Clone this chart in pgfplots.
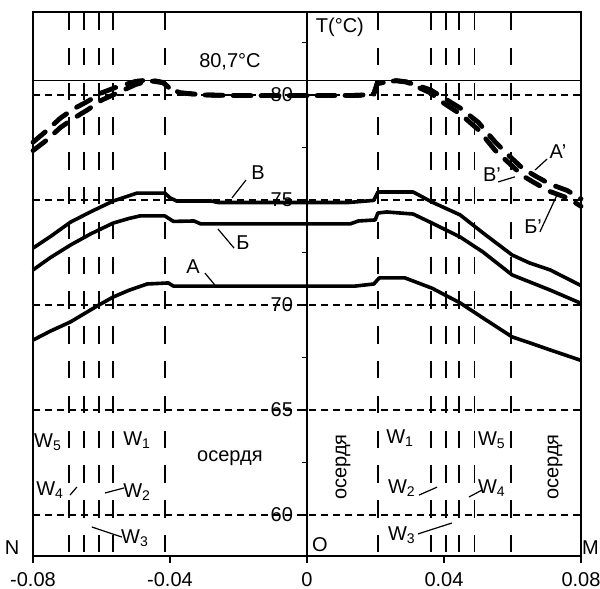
\documentclass[border=0pt]{standalone}
\usepackage{fontspec}
\setmainfont{Liberation Sans}
\usepackage{pgfplots}
\usepackage{pgfplotstable}
\pgfplotsset{compat=1.18}

\pgfplotstableread{
x y
-0.08 72.71
-0.075 73.25
-0.069 73.95
-0.063 74.45
-0.0566 74.95
-0.052 75.2
-0.0496 75.33
-0.0415 75.33
-0.040 75.1
-0.038 74.95
-0.028 74.95
-0.026 74.88
0.012 74.88
0.0195 74.98
0.0207 75.38
0.031 75.38
0.0365 74.9
0.0447 74.29
0.0514 73.43
0.0599 72.38
0.065 72.0
0.071 71.67
0.0797 70.95
0.08 70.93
}\curveV

\pgfplotstableread{
x y
-0.08 71.67
-0.075 72.25
-0.069 72.86
-0.063 73.4
-0.0566 73.9
-0.052 74.12
-0.0488 74.24
-0.0415 74.24
-0.039 73.98
-0.033 74.0
-0.031 73.86
0.0126 73.86
0.015 74.0
0.0199 74.05
0.0207 74.38
0.0233 74.43
0.031 74.33
0.0365 73.9
0.0447 73.24
0.0514 72.52
0.0599 71.43
0.065 71.1
0.071 70.71
0.0797 70.1
0.08 70.08
}\curveB

\pgfplotstableread{
x y
-0.08 68.33
-0.075 68.75
-0.069 69.2
-0.0613 69.95
-0.0566 70.38
-0.052 70.7
-0.0467 71.0
-0.0405 71.05
-0.039 70.9
0.014 70.9
0.0195 71.0
0.0211 71.29
0.0286 71.29
0.0365 70.8
0.0447 70.1
0.0514 69.38
0.0599 68.48
0.065 68.2
0.071 67.86
0.0797 67.38
0.08 67.36
}\curveA

\pgfplotstableread{
x y
-0.08 77.75
-0.076 78.3
-0.072 78.9
-0.068 79.35
-0.064 79.7
-0.060 80.1
-0.056 80.35
-0.050 80.65
-0.046 80.72
-0.042 80.6
-0.040 80.3
-0.037 80.1
-0.030 80.0
-0.020 79.97
0 79.97
0.015 79.98
0.0195 80.05
0.0205 80.55
0.026 80.68
0.029 80.62
0.036 80.25
0.040 79.85
0.0447 79.38
0.050 78.7
0.055 77.75
0.0587 77.15
0.0630 76.5
0.0666 76.15
0.071 75.75
0.076 75.45
0.080 75.05
}\curveAp

\pgfplotstableread{
x y
-0.08 77.35
-0.076 77.85
-0.072 78.45
-0.068 78.9
-0.064 79.3
-0.060 79.75
-0.056 80.05
-0.050 80.5
-0.046 80.68
-0.042 80.58
-0.040 80.3
-0.037 80.1
-0.030 80.0
-0.020 79.97
0 79.97
0.015 79.98
0.0195 80.05
0.0205 80.55
0.026 80.68
0.029 80.62
0.036 80.1
0.040 79.6
0.0447 79.1
0.050 78.35
0.055 77.35
0.0587 76.8
0.0630 76.15
0.0666 75.8
0.071 75.4
0.076 75.1
0.080 74.7
}\curveVp

\begin{document}
\begin{tikzpicture}[font=\fontsize{10}{12}\selectfont]
\begin{axis}[
  at={(0,0)}, anchor=south west,
  scale only axis, width=274pt, height=272pt,
  xmin=-0.08, xmax=0.08, ymin=58.05, ymax=83.95,
  axis x line=bottom, axis y line=middle,
  axis line style={-, line width=0.8pt, black},
  xtick={-0.08,-0.04,0,0.04,0.08},
  xticklabels={-0.08,-0.04,0,0.04,0.08},
  scaled x ticks=false,
  hide obscured x ticks=false, hide obscured y ticks=false,
  ytick={60,65,70,75,80},
  minor ytick={62.5,67.5,72.5,77.5,82.5},
  tick align=outside,
  major tick length=3.5pt, minor tick length=2.5pt,
  tick style={black, line width=0.7pt},
  ymajorgrids=true,
  major grid style={black, line width=0.6pt, dash pattern=on 3.5pt off 2.5pt},
  yticklabel style={anchor=east, xshift=0pt},
  xticklabel style={yshift=-1pt},
  /pgf/number format/assume math mode=true,
  clip=false,
]
\draw[line width=0.8pt] (rel axis cs:0,0) rectangle (rel axis cs:1,1);
\addplot[black, line width=0.6pt] coordinates {(-0.08,80.7) (0.08,80.7)};
\pgfplotsinvokeforeach{-0.0695,-0.0652,-0.0608,-0.0567,-0.0414,0.0207,0.0362,0.0405,0.0444,0.0489,0.0595}{
  \addplot[black, line width=0.9pt, dash pattern=on 8.7pt off 8.7pt, dash phase=-0.5pt] coordinates {(#1,83.95) (#1,58.05)};
}
\addplot[black, line width=1.8pt, line join=round] table {\curveV};
\addplot[black, line width=1.8pt, line join=round] table {\curveB};
\addplot[black, line width=1.8pt, line join=round] table {\curveA};
\addplot[black, line width=2.4pt, line cap=round, dash pattern=on 8pt off 6pt] table {\curveAp};
\addplot[black, line width=2.4pt, line cap=round, dash pattern=on 8pt off 6pt] table {\curveVp};

\node at (axis cs:0.0096,83.24) {T(°C)};
\node at (axis cs:-0.0225,81.57) {80,7°C};
\node at (axis cs:-0.0861,58.43) {N};
\node at (axis cs:0.0038,58.57) {O};
\node[anchor=east, inner sep=0pt] at (axis cs:0.0853,58.43) {M};

\node at (axis cs:-0.0143,76.29) {В};
\draw[line width=0.6pt] (axis cs:-0.0219,75.10) -- (axis cs:-0.0178,75.95);
\node at (axis cs:-0.0187,72.95) {Б};
\draw[line width=0.6pt] (axis cs:-0.026,73.62) -- (axis cs:-0.0213,72.71);
\node at (axis cs:-0.0333,71.81) {А};
\draw[line width=0.6pt] (axis cs:-0.0298,71.52) -- (axis cs:-0.0269,70.95);

\node at (axis cs:0.0733,77.29) {А'};
\draw[line width=0.6pt] (axis cs:0.0666,76.43) -- (axis cs:0.0701,76.95);
\node at (axis cs:0.054,76.19) {В'};
\draw[line width=0.6pt] (axis cs:0.0558,75.86) -- (axis cs:0.0607,76.1);
\node at (axis cs:0.066,73.71) {Б'};
\draw[line width=0.6pt] (axis cs:0.068,73.48) -- (axis cs:0.073,75.24);

\node at (axis cs:-0.0756,63.48) {W\textsubscript{5}};
\node at (axis cs:-0.0496,63.57) {W\textsubscript{1}};
\node at (axis cs:-0.0225,62.71) {осердя};
\node at (axis cs:-0.075,61.19) {W\textsubscript{4}};
\draw[line width=0.6pt] (axis cs:-0.0692,60.95) -- (axis cs:-0.0672,61.33);
\node at (axis cs:-0.0496,61.1) {W\textsubscript{2}};
\draw[line width=0.6pt] (axis cs:-0.059,61.05) -- (axis cs:-0.0534,61.29);
\node at (axis cs:-0.0502,58.9) {W\textsubscript{3}};
\draw[line width=0.6pt] (axis cs:-0.0628,59.43) -- (axis cs:-0.054,58.95);

\node[rotate=90] at (axis cs:0.0105,62.29) {осердя};
\node at (axis cs:0.0272,63.67) {W\textsubscript{1}};
\node at (axis cs:0.054,63.57) {W\textsubscript{5}};
\node[rotate=90] at (axis cs:0.0724,62.29) {осердя};
\node at (axis cs:0.0277,61.29) {W\textsubscript{2}};
\draw[line width=0.6pt] (axis cs:0.0327,60.95) -- (axis cs:0.038,61.33);
\node at (axis cs:0.054,61.29) {W\textsubscript{4}};
\draw[line width=0.6pt] (axis cs:0.0473,60.86) -- (axis cs:0.0511,61.19);
\node at (axis cs:0.0277,59.05) {W\textsubscript{3}};
\draw[line width=0.6pt] (axis cs:0.0324,59.1) -- (axis cs:0.0423,59.62);
\end{axis}
\pgfresetboundingbox
\useasboundingbox (-16.5pt,-16.5pt) rectangle (283.5pt,278pt);
\end{tikzpicture}
\end{document}
